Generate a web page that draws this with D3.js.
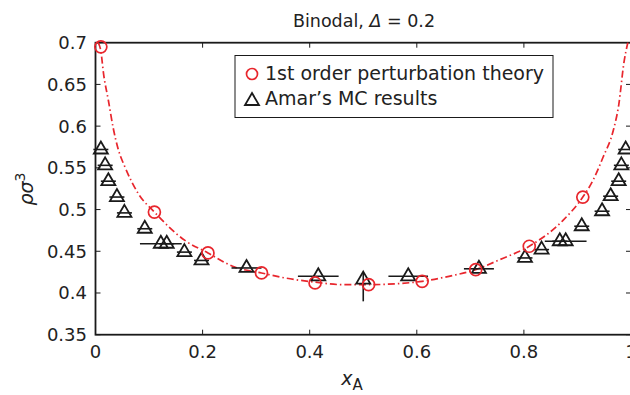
<!DOCTYPE html>
<html>
<head>
<meta charset="utf-8">
<script src="https://cdn.jsdelivr.net/npm/d3@7"></script>
<style>
  body { margin: 0; background: #fff; }
  text { font-family: "DejaVu Sans", "Liberation Sans", Arial, sans-serif; fill: #222; }
</style>
</head>
<body>
<div id="chart"></div>
<script>
// axis ticks
const xTicks = [0, 0.2, 0.4, 0.6, 0.8, 1]
const yTicks = [0.35, 0.4, 0.45, 0.5, 0.55, 0.6, 0.65, 0.7]

// 1st order perturbation theory (circles)
const ptX = [0.01, 0.11, 0.21, 0.31, 0.41, 0.51, 0.61, 0.71, 0.81, 0.91]
const ptY = [0.695, 0.497, 0.448, 0.424, 0.412, 0.410, 0.414, 0.428, 0.456, 0.515]

// dash-dot binodal curve
const curveX = [0.005, 0.01, 0.015, 0.024, 0.033, 0.043, 0.055, 0.08, 0.11, 0.167, 0.21, 0.26, 0.31, 0.354,
  0.41, 0.46, 0.51, 0.56, 0.61, 0.66, 0.71, 0.755, 0.81, 0.873, 0.91, 0.929, 0.948, 0.967, 0.977, 0.987, 0.994]
const curveY = [0.700, 0.690, 0.663, 0.631, 0.598, 0.571, 0.551, 0.519, 0.497, 0.463, 0.448, 0.431, 0.424, 0.418,
  0.413, 0.410, 0.410, 0.411, 0.414, 0.420, 0.428, 0.440, 0.456, 0.487, 0.515, 0.535, 0.563, 0.595, 0.625, 0.677, 0.700]

// Amar's MC results (triangles) with error bars
const mcX = [0.010, 0.018, 0.024, 0.040, 0.054, 0.092, 0.122, 0.133, 0.166, 0.198, 0.282, 0.416, 0.500,
  0.584, 0.716, 0.802, 0.833, 0.867, 0.878, 0.908, 0.946, 0.962, 0.977, 0.982, 0.990]
const mcY = [0.572, 0.553, 0.534, 0.515, 0.496, 0.477, 0.459, 0.459, 0.449, 0.439, 0.430, 0.420, 0.416,
  0.420, 0.429, 0.442, 0.452, 0.462, 0.462, 0.480, 0.498, 0.516, 0.534, 0.553, 0.572]
const mcXerr = [0.014, 0.014, 0.014, 0.014, 0.014, 0.014, 0.039, 0.014, 0.014, 0.014, 0.028, 0.038, 0,
  0.037, 0.028, 0.014, 0.014, 0.014, 0.039, 0.014, 0.014, 0.014, 0.014, 0.014, 0.014]
const mcYlo = mcY.map((v, i) => i == 12 ? 0.390 : v)
const mcYhi = mcY.map((v, i) => i == 12 ? 0.424 : v)

const legendLabels = ['1st order perturbation theory', 'Amar\u2019s MC results']

const ud = {
  W: 630,
  H: 395,
  ml: 95.5,   // left edge of axes
  mt: 42.7,   // top edge
  pr: 631,    // right edge (just off the picture)
  pb: 334.7,  // bottom edge
  red: '#e8262d',
  ink: '#1a1a1a',
  tick: 5,
}

const svg = d3.select('#chart').append('svg')
  .attr('width', ud.W).attr('height', ud.H)
  .attr('viewBox', [0, 0, ud.W, ud.H])

const x = d3.scaleLinear().domain([0, 1]).range([ud.ml, ud.pr])
const y = d3.scaleLinear().domain([0.35, 0.7]).range([ud.pb, ud.mt])

// ticks, inward on all four sides
const g = svg.append('g')
g.selectAll('.xt').data(xTicks).enter().append('path')
  .attr('d', d => `M${x(d)},${ud.pb}v${-ud.tick}M${x(d)},${ud.mt}v${ud.tick}`)
  .attr('stroke', ud.ink).attr('stroke-width', 1)
g.selectAll('.yt').data(yTicks).enter().append('path')
  .attr('d', d => `M${ud.ml},${y(d)}h${ud.tick}M${ud.pr},${y(d)}h${-ud.tick}`)
  .attr('stroke', ud.ink).attr('stroke-width', 1)

// tick labels
g.selectAll('.xl').data(xTicks).enter().append('text')
  .attr('x', d => x(d)).attr('y', 358)
  .attr('text-anchor', 'middle').style('font-size', '18px')
  .text(d => d3.format('')(d))
g.selectAll('.yl').data(yTicks).enter().append('text')
  .attr('x', 87).attr('y', d => y(d)).attr('dy', '0.36em')
  .attr('text-anchor', 'end').style('font-size', '18px')
  .text(d => d3.format('')(+d.toFixed(2)))

// frame
g.append('rect')
  .attr('x', ud.ml).attr('y', ud.mt)
  .attr('width', ud.pr - ud.ml).attr('height', ud.pb - ud.mt)
  .attr('fill', 'none').attr('stroke', ud.ink).attr('stroke-width', 1.8)

// curve
const line = d3.line().x(d => x(d[0])).y(d => y(d[1])).curve(d3.curveMonotoneX)
g.append('path')
  .datum(curveX.map((v, i) => [v, curveY[i]]))
  .attr('d', line)
  .attr('fill', 'none').attr('stroke', ud.red).attr('stroke-width', 1.7)
  .attr('stroke-dasharray', '7,3,1.5,3')

// triangle marker
const tri = 'M0,-8L7,4L-7,4Z'

// MC error bars
const mc = mcX.map((v, i) => ({ x: v, y: mcY[i], xe: mcXerr[i], lo: mcYlo[i], hi: mcYhi[i] }))
g.selectAll('.ebx').data(mc.filter(d => d.xe > 0)).enter().append('path')
  .attr('d', d => `M${x(d.x - d.xe)},${y(d.y)}H${x(d.x + d.xe)}`)
  .attr('stroke', ud.ink).attr('stroke-width', 1.6)
g.selectAll('.eby').data(mc.filter(d => d.lo != d.hi)).enter().append('path')
  .attr('d', d => `M${x(d.x)},${y(d.hi)}V${y(d.lo)}`)
  .attr('stroke', ud.ink).attr('stroke-width', 1.6)

// MC triangles
g.selectAll('.mc').data(mc).enter().append('path')
  .attr('d', tri)
  .attr('transform', d => `translate(${x(d.x)},${y(d.y)})`)
  .attr('fill', 'none').attr('stroke', ud.ink).attr('stroke-width', 1.8)

// perturbation theory circles
g.selectAll('.pt').data(ptX).enter().append('circle')
  .attr('cx', d => x(d)).attr('cy', (d, i) => y(ptY[i])).attr('r', 6)
  .attr('fill', 'none').attr('stroke', ud.red).attr('stroke-width', 1.7)

// legend
const lg = svg.append('g')
lg.append('rect')
  .attr('x', 235).attr('y', 55.5).attr('width', 318).attr('height', 62)
  .attr('fill', '#fff').attr('stroke', ud.ink).attr('stroke-width', 1)
lg.append('circle').attr('cx', 252).attr('cy', 74).attr('r', 5.5)
  .attr('fill', 'none').attr('stroke', ud.red).attr('stroke-width', 1.7)
lg.append('path').attr('d', tri).attr('transform', 'translate(252,101)')
  .attr('fill', 'none').attr('stroke', ud.ink).attr('stroke-width', 1.8)
lg.selectAll('.lt').data(legendLabels).enter().append('text')
  .attr('x', 265).attr('y', (d, i) => 80 + i * 25)
  .style('font-size', '19px')
  .text(d => d)

// title
const title = svg.append('text')
  .attr('x', 364).attr('y', 27).attr('text-anchor', 'middle')
  .style('font-size', '17.5px')
title.append('tspan').text('Binodal, ')
title.append('tspan').style('font-style', 'italic').text('\u0394')
title.append('tspan').text(' = 0.2')

// axis labels
const xl = svg.append('text')
  .attr('x', 352).attr('y', 385).attr('text-anchor', 'middle')
  .style('font-size', '19px')
xl.append('tspan').style('font-style', 'italic').text('x')
xl.append('tspan').attr('dy', 5).style('font-size', '15px').text('A')

const yl = svg.append('text')
  .attr('transform', 'translate(33,189) rotate(-90)')
  .attr('text-anchor', 'middle')
  .style('font-size', '19px')
yl.append('tspan').style('font-style', 'italic').text('\u03c1\u03c3')
yl.append('tspan').attr('dy', -8).style('font-size', '14px').text('3')
</script>
</body>
</html>
